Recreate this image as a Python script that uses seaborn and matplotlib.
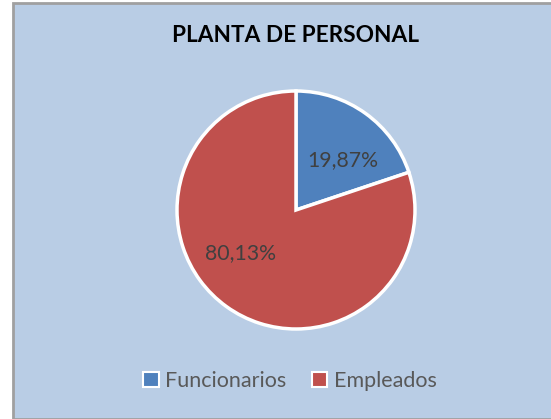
import matplotlib
matplotlib.use("Agg")
import matplotlib.pyplot as plt
import seaborn as sns
from matplotlib.patches import Rectangle

categories = ["Funcionarios", "Empleados"]
values = [19.87, 80.13]
labels_pct = ["19,87%", "80,13%"]
title = "PLANTA DE PERSONAL"

sns.set_style("white")
plt.rcParams['font.family'] = ['Lato', 'DejaVu Sans']

colors = ["#4F81BD", "#C0504D"]
# label anchor positions in pie-radius units (Excel-style placement)
label_pos = [(0.395, 0.42), (-0.466, -0.366)]

W, H = 551, 419
fig = plt.figure(figsize=(W/100, H/100), dpi=100)
fig.patch.set_facecolor("white")

# background chart area with border
bg = Rectangle((12.5/W, 0), 1 - 12.5/W + 0.01, 1 - 3.5/H, transform=fig.transFigure,
               facecolor="#B9CDE5", edgecolor="#A0A0A0", linewidth=2, zorder=-10)
fig.patches.append(bg)

cx, cy, r = 296, 210, 119
ax = fig.add_axes([(cx - r)/W, (H - cy - r)/H, 2*r/W, 2*r/H])
ax.set_facecolor("none")
wedges, texts = ax.pie(values, colors=colors, startangle=90, counterclock=False,
                       radius=1, wedgeprops=dict(edgecolor="white", linewidth=2.5))
for (px, py), lab in zip(label_pos, labels_pct):
    ax.text(px, py, lab, ha="center", va="center", fontsize=15.3, color="#404040")
ax.set_xlim(-1.0, 1.0)
ax.set_ylim(-1.0, 1.0)
ax.set_aspect("equal")
ax.axis("off")

fig.text(295.5/W, 1 - 35.5/H, title, ha="center", va="center", fontsize=16.3,
         fontweight="bold", color="black")

handles = [Rectangle((0, 0), 1, 1, facecolor=c, edgecolor="white", linewidth=1.5) for c in colors]
leg = fig.legend(handles, categories, loc="center", bbox_to_anchor=(290/W, 1 - 381/H),
                 ncol=2, frameon=False, fontsize=15.5, handlelength=0.7, handleheight=0.7,
                 handletextpad=0.3, columnspacing=1.2, labelcolor="#595959")

fig.savefig("out.png", dpi=100)
